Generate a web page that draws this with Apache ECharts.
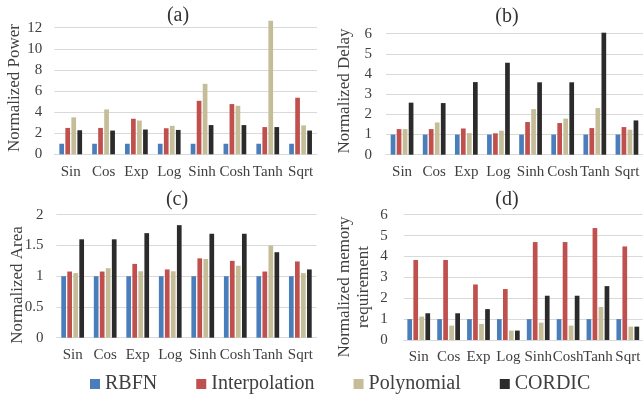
<!DOCTYPE html>
<html>
<head>
<meta charset="utf-8">
<script src="https://cdn.jsdelivr.net/npm/echarts@6/dist/echarts.min.js"></script>
<style>
html,body{margin:0;padding:0;background:#fff;}
#chart{width:643px;height:397px;}
</style>
</head>
<body>
<div id="chart"></div>
<script>
const categories = ['Sin','Cos','Exp','Log','Sinh','Cosh','Tanh','Sqrt'];
const seriesNames = ['RBFN','Interpolation','Polynomial','CORDIC'];

const powerRBFN   = [1,1,1,1,1,1,1,1];
const powerInterp = [2.5,2.5,3.37,2.47,5.07,4.76,2.58,5.36];
const powerPoly   = [3.5,4.25,3.2,2.7,6.68,4.6,12.65,2.74];
const powerCordic = [2.28,2.25,2.35,2.31,2.77,2.77,2.58,2.25];

const delayRBFN   = [1,1,1,1,1,1,1,1];
const delayInterp = [1.27,1.27,1.3,1.06,1.62,1.57,1.32,1.37];
const delayPoly   = [1.27,1.6,1.07,1.19,2.26,1.79,2.31,1.24];
const delayCordic = [2.58,2.56,3.6,4.56,3.59,3.59,6.05,1.7];

const areaRBFN    = [1,1,1,1,1,1,1,1];
const areaInterp  = [1.076,1.076,1.2,1.11,1.29,1.25,1.076,1.24];
const areaPoly    = [1.05,1.13,1.08,1.08,1.28,1.17,1.5,1.05];
const areaCordic  = [1.6,1.6,1.7,1.83,1.69,1.69,1.39,1.11];

const memRBFN     = [1,1,1,1,1,1,1,1];
const memInterp   = [3.83,3.83,2.66,2.44,4.69,4.69,5.36,4.48];
const memPoly     = [1.12,0.69,0.77,0.45,0.83,0.69,1.58,0.64];
const memCordic   = [1.28,1.28,1.48,0.45,2.12,2.12,2.58,0.64];

const panelTitles = ['(a)','(b)','(c)','(d)'];
const yNames = ['Normalized Power','Normalized Delay','Normalized Area','Normalized memory\nrequirement'];
const yMax = [12,6,2,6];
const yInterval = [2,1,0.5,1];

const colors = ['#4a7ebb','#c0504d','#c4bd97','#2b2b2b'];
const FONT = '"Liberation Serif","Times New Roman",serif';
const TXT = '#404040';

const panels = [
  [powerRBFN,powerInterp,powerPoly,powerCordic],
  [delayRBFN,delayInterp,delayPoly,delayCordic],
  [areaRBFN,areaInterp,areaPoly,areaCordic],
  [memRBFN,memInterp,memPoly,memCordic]
];

const grids = [
  {left:54.3, top:27.7, width:262.7, height:126.6},
  {left:386, top:33.7, width:259.7, height:121},
  {left:56.4, top:214.7, width:260.2, height:123},
  {left:403.8, top:214.7, width:243.8, height:125.3}
];
const yLabelMargin = [12,14,13,16];
const titlePos = [[178,16],[507,17],[177,200],[507,200]];
const yNamePos = [[15,88],[345,91],[18,285],[354,287]];

const chart = echarts.init(document.getElementById('chart'), null, {renderer:'canvas'});

const xAxes = [], yAxes = [], series = [], graphics = [];
for (let p = 0; p < 4; p++) {
  xAxes.push({
    type:'category', gridIndex:p, data:categories,
    axisLine:{show:true, lineStyle:{color:'#d9d9d9', width:1}},
    axisTick:{show:false},
    axisLabel:{interval:0, margin:10, fontFamily:FONT, fontSize:15, color:TXT}
  });
  yAxes.push({
    type:'value', gridIndex:p, min:0, max:yMax[p], interval:yInterval[p],
    axisLine:{show:false}, axisTick:{show:false},
    splitLine:{lineStyle:{color:'#d9d9d9', width:1}},
    axisLabel:{margin:yLabelMargin[p], fontFamily:FONT, fontSize:15, color:TXT}
  });
  for (let s = 0; s < 4; s++) {
    series.push({
      name:seriesNames[s], type:'bar', xAxisIndex:p, yAxisIndex:p,
      data:panels[p][s], barWidth:4.7, barGap:'28%', clip:false,
      itemStyle:{color:colors[s]}, animation:false
    });
  }
  graphics.push({
    type:'text', x:titlePos[p][0], y:titlePos[p][1],
    style:{text:panelTitles[p], font:'20px '+FONT, fill:'#333', textAlign:'center', textVerticalAlign:'middle'}
  });
  graphics.push({
    type:'text', x:yNamePos[p][0], y:yNamePos[p][1], rotation:Math.PI/2,
    style:{text:yNames[p], font:'17px '+FONT, fill:TXT, textAlign:'center', textVerticalAlign:'middle', lineHeight:19}
  });
}

chart.setOption({
  animation:false,
  grid:grids,
  xAxis:xAxes,
  yAxis:yAxes,
  series:series,
  legend:{
    data:seriesNames, left:90, top:374, padding:0, icon:'rect', itemWidth:10, itemHeight:10, itemGap:39,
    textStyle:{fontFamily:FONT, fontSize:20, color:TXT}
  },
  graphic:graphics
});
</script>
</body>
</html>
